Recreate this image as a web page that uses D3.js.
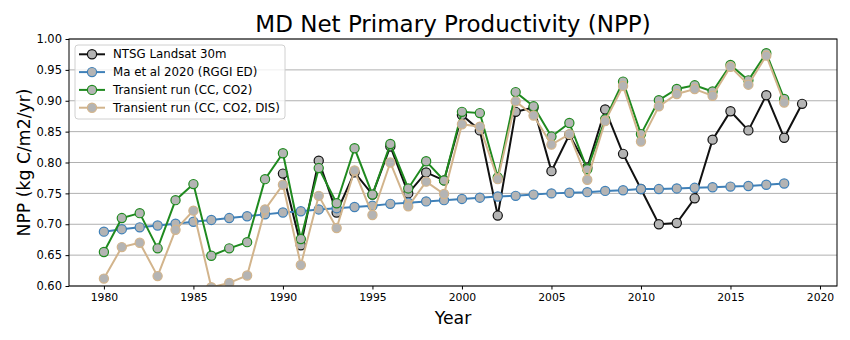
<!DOCTYPE html>
<html>
<head>
<meta charset="utf-8">
<script src="https://cdn.jsdelivr.net/npm/d3@7"></script>
<style>
  body { margin: 0; background: #fff; }
  text { font-family: "DejaVu Sans", sans-serif; }
</style>
</head>
<body>
<div id="chart"></div>
<script>
var svgWidth = 850;
var svgHeight = 340;

// plot area margins
var margin = { top: 39, right: 13, bottom: 54, left: 69 };
var width = svgWidth - margin.left - margin.right;
var height = svgHeight - margin.top - margin.bottom;

// series values
var modelYears = d3.range(1980, 2019);
var landsatYears = d3.range(1990, 2020);

var landsat = [0.782, 0.666, 0.803, 0.719, 0.784, 0.748, 0.826, 0.750, 0.784, 0.771,
               0.877, 0.852, 0.714, 0.882, 0.889, 0.786, 0.845, 0.792, 0.886, 0.814,
               0.757, 0.700, 0.702, 0.742, 0.837, 0.883, 0.852, 0.909, 0.840, 0.895];

var maEtAl = [0.688, 0.692, 0.695, 0.698, 0.701, 0.704, 0.707, 0.710, 0.713, 0.716,
              0.719, 0.721, 0.724, 0.726, 0.728, 0.730, 0.733, 0.735, 0.737, 0.739,
              0.741, 0.743, 0.745, 0.746, 0.748, 0.750, 0.751, 0.752, 0.754, 0.755,
              0.757, 0.757, 0.758, 0.759, 0.760, 0.761, 0.762, 0.764, 0.766];

var transientCO2 = [0.655, 0.710, 0.718, 0.661, 0.739, 0.765, 0.649, 0.661, 0.671, 0.773,
                    0.815, 0.676, 0.791, 0.734, 0.823, 0.748, 0.830, 0.758, 0.802, 0.771,
                    0.882, 0.880, 0.776, 0.914, 0.891, 0.842, 0.864, 0.789, 0.870, 0.931,
                    0.846, 0.901, 0.919, 0.925, 0.915, 0.958, 0.933, 0.977, 0.903];

var transientDIS = [0.612, 0.663, 0.670, 0.616, 0.691, 0.722, 0.598, 0.605, 0.617, 0.724,
                    0.764, 0.634, 0.746, 0.694, 0.787, 0.715, 0.800, 0.729, 0.769, 0.749,
                    0.862, 0.858, 0.773, 0.899, 0.876, 0.829, 0.846, 0.772, 0.867, 0.924,
                    0.834, 0.891, 0.911, 0.919, 0.908, 0.955, 0.926, 0.973, 0.897];

var yTicks = [0.60, 0.65, 0.70, 0.75, 0.80, 0.85, 0.90, 0.95, 1.00];
var xTicks = [1980, 1985, 1990, 1995, 2000, 2005, 2010, 2015, 2020];

var series = [
  { name: "NTSG Landsat 30m", years: landsatYears, values: landsat, color: "#111111" },
  { name: "Ma et al 2020 (RGGI ED)", years: modelYears, values: maEtAl, color: "#3f80b8" },
  { name: "Transient run (CC, CO2)", years: modelYears, values: transientCO2, color: "#1f8a1f" },
  { name: "Transient run (CC, CO2, DIS)", years: modelYears, values: transientDIS, color: "#d2b48c" }
];

var svg = d3.select("#chart")
  .append("svg")
  .attr("width", svgWidth)
  .attr("height", svgHeight);

var chartGroup = svg.append("g")
  .attr("transform", `translate(${margin.left},${margin.top})`);

var xScale = d3.scaleLinear()
  .domain([1978.05, 2020.95])
  .range([0, width]);

var yScale = d3.scaleLinear()
  .domain([0.60, 1.00])
  .range([height, 0]);

svg.append("defs").append("clipPath")
  .attr("id", "plot-clip")
  .append("rect")
  .attr("width", width)
  .attr("height", height);

// horizontal grid
chartGroup.append("g")
  .selectAll("line")
  .data(yTicks)
  .join("line")
  .attr("x1", 0)
  .attr("x2", width)
  .attr("y1", d => yScale(d))
  .attr("y2", d => yScale(d))
  .attr("stroke", "#b0b0b0")
  .attr("stroke-width", 1);

var plot = chartGroup.append("g").attr("clip-path", "url(#plot-clip)");

var line = d3.line()
  .x(d => xScale(d[0]))
  .y(d => yScale(d[1]));

series.forEach(function(s) {
  var pts = s.years.map((yr, i) => [yr, s.values[i]]);
  var g = plot.append("g");
  g.append("path")
    .datum(pts)
    .attr("d", line)
    .attr("fill", "none")
    .attr("stroke", s.color)
    .attr("stroke-width", 2);
  g.selectAll("circle")
    .data(pts)
    .join("circle")
    .attr("cx", d => xScale(d[0]))
    .attr("cy", d => yScale(d[1]))
    .attr("r", 4.6)
    .attr("fill", "#b4b4b4")
    .attr("stroke", s.color)
    .attr("stroke-width", 1.2);
});

// axes
var xAxis = d3.axisBottom(xScale).tickValues(xTicks).tickFormat(d3.format("d")).tickSizeOuter(0).tickSize(3.5).tickPadding(3.5);
var yAxis = d3.axisLeft(yScale).tickValues(yTicks).tickFormat(d3.format(".2f")).tickSizeOuter(0).tickSize(3.5).tickPadding(3.5);

var gx = chartGroup.append("g")
  .attr("transform", `translate(0,${height})`)
  .call(xAxis);
var gy = chartGroup.append("g").call(yAxis);

[gx, gy].forEach(function(g) {
  g.select(".domain").remove();
  g.selectAll("text").attr("fill", "#000").style("font-family", "DejaVu Sans");
  g.selectAll("line").attr("stroke", "#000");
});
gx.selectAll("text").attr("font-size", "10.8px");
gy.selectAll("text").attr("font-size", "11.5px");

// frame
chartGroup.append("rect")
  .attr("width", width)
  .attr("height", height)
  .attr("fill", "none")
  .attr("stroke", "#000")
  .attr("stroke-width", 1);

// titles
svg.append("text")
  .attr("x", margin.left + width / 2)
  .attr("y", 31.5)
  .attr("text-anchor", "middle")
  .attr("font-size", "23px")
  .text("MD Net Primary Productivity (NPP)");

svg.append("text")
  .attr("x", margin.left + width / 2)
  .attr("y", 323.5)
  .attr("text-anchor", "middle")
  .attr("font-size", "17.3px")
  .text("Year");

svg.append("text")
  .attr("transform", `translate(29.5,${margin.top + height / 2}) rotate(-90)`)
  .attr("text-anchor", "middle")
  .attr("font-size", "17.3px")
  .text("NPP (kg C/m2/yr)");

// legend
var legend = chartGroup.append("g").attr("transform", "translate(6,6)");
legend.append("rect")
  .attr("width", 210)
  .attr("height", 74)
  .attr("rx", 3)
  .attr("fill", "#fff")
  .attr("fill-opacity", 0.8)
  .attr("stroke", "#d0d0d0");

var rows = legend.selectAll("g.row")
  .data(series)
  .join("g")
  .attr("class", "row")
  .attr("transform", (d, i) => `translate(0,${9.3 + i * 17.8})`);

rows.append("line")
  .attr("x1", 4).attr("x2", 30)
  .attr("stroke", d => d.color)
  .attr("stroke-width", 2);
rows.append("circle")
  .attr("cx", 17)
  .attr("r", 4.6)
  .attr("fill", "#b4b4b4")
  .attr("stroke", d => d.color)
  .attr("stroke-width", 1.2);
rows.append("text")
  .attr("x", 38)
  .attr("dy", "0.35em")
  .attr("font-size", "11.8px")
  .text(d => d.name);
</script>
</body>
</html>
